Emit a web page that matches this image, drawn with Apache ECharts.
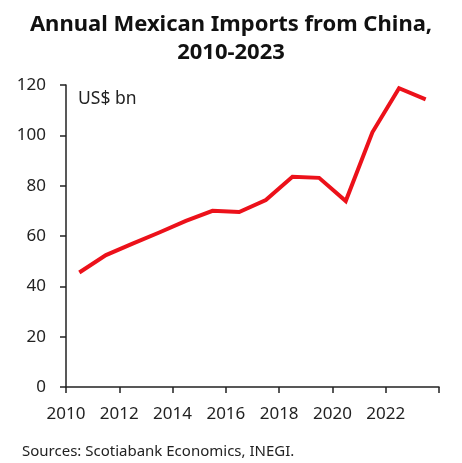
<!DOCTYPE html>
<html><head><meta charset="utf-8">
<script src="https://cdn.jsdelivr.net/npm/echarts@6/dist/echarts.min.js"></script>
<style>html,body{margin:0;padding:0;background:#fff;}#c{width:462px;height:463px;}</style>
</head><body><div id="c"></div>
<script>
var years = [2010,2011,2012,2013,2014,2015,2016,2017,2018,2019,2020,2021,2022,2023];
var imports = [45.5,52.4,57.0,61.4,66.0,70.0,69.5,74.3,83.5,83.1,73.9,101.2,118.7,114.3];
var yTicks = [0,20,40,60,80,100,120];
var xTickLabels = [2010,2012,2014,2016,2018,2020,2022];
var titleText = 'Annual Mexican Imports from China,\n2010-2023';
var unitText = 'US$ bn';
var sourceText = 'Sources: Scotiabank Economics, INEGI.';

var seriesData = years.map(function(y,i){ return [y + 0.5, imports[i]]; });
var font = 'Noto Sans';
var chart = echarts.init(document.getElementById('c'));
chart.setOption({
  backgroundColor: '#fff',
  animation: false,
  title: {
    text: titleText, left: 'center', top: 6,
    textStyle: {fontFamily: font, fontWeight: 'bold', fontSize: 22, lineHeight: 28, color: '#111'}
  },
  graphic: [
    {type: 'text', left: 78, top: 90, style: {text: unitText, font: '17.5px "Noto Sans"', fill: '#222'}},
    {type: 'text', left: 22, top: 444, style: {text: sourceText, font: '15px "Noto Sans"', fill: '#222'}}
  ],
  grid: {left: 66, right: 23, top: 85, bottom: 76, containLabel: false},
  xAxis: {
    type: 'value', min: 2010, max: 2024, interval: 2,
    axisLine: {show: true, lineStyle: {color: '#222', width: 1.5}},
    axisTick: {show: true, length: 6, lineStyle: {color: '#222', width: 1.5}},
    axisLabel: {
      margin: 19, fontFamily: font, fontSize: 17, color: '#222',
      formatter: function(v){ return xTickLabels.indexOf(v) >= 0 ? String(v) : ''; }
    },
    splitLine: {show: false}
  },
  yAxis: {
    type: 'value', min: yTicks[0], max: yTicks[yTicks.length-1], interval: 20,
    axisLine: {show: true, lineStyle: {color: '#222', width: 1.5}},
    axisTick: {show: true, length: 6, lineStyle: {color: '#222', width: 1.5}},
    axisLabel: {margin: 20, fontFamily: font, fontSize: 17, color: '#222'},
    splitLine: {show: false}
  },
  series: [{
    type: 'line', data: seriesData, symbol: 'none',
    lineStyle: {color: '#EC111A', width: 4, join: 'miter'}
  }]
});
</script></body></html>
